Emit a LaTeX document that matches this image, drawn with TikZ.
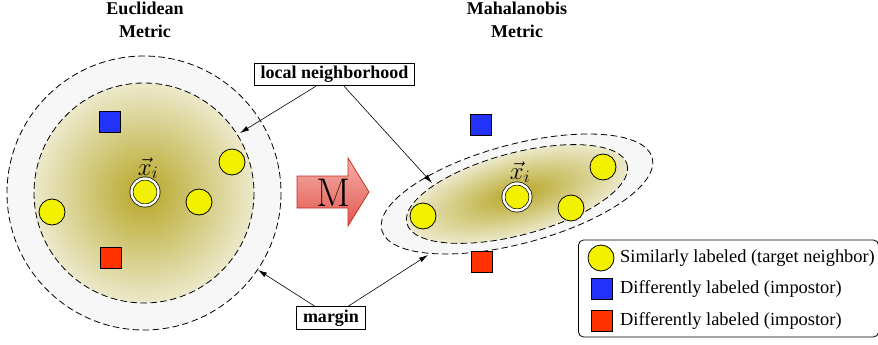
\documentclass[tikz,border=0pt]{standalone}
\usepackage{fontspec}
\newfontfamily\tnr{Liberation Serif}
\usetikzlibrary{arrows.meta,calc}
\definecolor{ylw}{RGB}{242,242,0}
\definecolor{blu}{RGB}{35,50,250}
\definecolor{rd}{RGB}{255,50,0}
\definecolor{olivec}{RGB}{183,166,38}
\definecolor{olivee}{RGB}{236,233,203}
\definecolor{ringg}{RGB}{247,247,247}
\definecolor{arrowtop}{RGB}{246,175,170}
\definecolor{arrowbot}{RGB}{224,88,78}
\definecolor{arrowedge}{RGB}{200,45,35}
\begin{document}
\begin{tikzpicture}[x=1pt,y=-1pt,
  pt/.style={circle,draw=black,fill=ylw,minimum size=26pt,inner sep=0pt,line width=0.8pt},
  ctr/.style={circle,fill=ylw,draw=black,double=white,double distance=2.4pt,line width=0.7pt,minimum size=27pt,inner sep=0pt},
  sq/.style={rectangle,draw=black,minimum size=21pt,inner sep=0pt,line width=0.8pt},
  dsh/.style={draw=black,line width=0.8pt,dash pattern=on 6.5pt off 3.5pt},
  lbl/.style={draw=black,fill=white,line width=0.8pt,font=\tnr\bfseries\fontsize{18}{20}\selectfont,inner xsep=6.5pt,inner ysep=3pt,text height=12.5pt,text depth=4pt},
  ttl/.style={font=\tnr\bfseries\fontsize{18}{23}\selectfont,align=center,inner sep=0pt},
  leg/.style={font=\tnr\fontsize{18.4}{20}\selectfont,anchor=west,inner sep=0pt},
  xilab/.style={font=\fontsize{24}{26}\selectfont,inner sep=0pt},
  conn/.style={draw=black,line width=0.6pt,-{Latex[length=9pt,width=5pt]}}
]
\useasboundingbox (0,0) rectangle (878,345);

% ---- Euclidean (left) ----
\fill[ringg] (144,193) circle[radius=137];
\draw[dsh] (144,193) circle[radius=137];
\shade[inner color=olivec,outer color=olivee] (144,193) circle[radius=110];
\draw[dsh] (144,193) circle[radius=110];

\node[ttl] (t1) at (145,20) {Euclidean\\Metric};
\node[sq,fill=blu] (b1) at (110,122) {};
\node[sq,fill=rd] (r1) at (111,258) {};
\node[pt] (p1a) at (232,162) {};
\node[pt] (p1b) at (199,202) {};
\node[pt] (p1c) at (52,212) {};
\node[ctr] (c1) at (145,192) {};
\node[xilab] (lx1) at (148,168) {$\vec{x}_i$};

% ---- Mahalanobis (right) ----
\begin{scope}[transform canvas={shift={(517,194)},rotate=15}]
  \fill[ringg] (0,0) ellipse[x radius=140,y radius=49.5];
  \draw[dsh] (0,0) ellipse[x radius=140,y radius=49.5];
  \shade[inner color=olivec,outer color=olivee] (0,0) ellipse[x radius=114,y radius=41];
  \draw[dsh] (0,0) ellipse[x radius=114,y radius=41];
\end{scope}

\node[ttl] (t2) at (517,20) {Mahalanobis\\Metric};
\node[sq,fill=blu] (b2) at (481,125) {};
\node[sq,fill=rd] (r2) at (482,262) {};
\node[pt] (p2a) at (423,216) {};
\node[pt] (p2b) at (603,167) {};
\node[pt] (p2c) at (571,208) {};
\node[ctr] (c2) at (517,197) {};
\node[xilab] (lx2) at (520,172) {$\vec{x}_i$};

% ---- M arrow ----
\shade[top color=arrowtop,bottom color=arrowbot,draw=arrowedge,line width=0.8pt]
  (297,176) -- (348,176) -- (348,158) -- (369,192) -- (348,226) -- (348,208) -- (297,208) -- cycle;
\node[font=\fontsize{40}{42}\selectfont,inner sep=0pt] (M) at (333,193) {M};

% ---- labels and connectors ----
\node[lbl] (lnb) at (334.5,74.5) {local neighborhood};
\node[lbl] (mrg) at (331,318) {margin};
\coordinate (tipA) at (240,133);
\coordinate (tipB) at (432,183);
\coordinate (tipC) at (258,270);
\coordinate (tipD) at (428,255);
\draw[conn] ($(lnb.south)+(-18.5,0)$) -- (tipA);
\draw[conn] ($(lnb.south)+(9.5,0)$) -- (tipB);
\draw[conn] ($(mrg.north)+(-16,0)$) -- (tipC);
\draw[conn] ($(mrg.north)+(17,0)$) -- (tipD);

% ---- legend ----
\node[draw=black,line width=0.8pt,rounded corners=5pt,minimum width=300pt,minimum height=97pt,inner sep=0pt] (legend) at (728.5,288.5) {};
\node[pt] (lg1) at (601,258) {};
\node[sq,fill=blu] (lg2) at (601.5,288.5) {};
\node[sq,fill=rd] (lg3) at (601.5,321) {};
\node[leg] (lt1) at (620,258) {Similarly labeled (target neighbor)};
\node[leg] (lt2) at (620,289) {Differently labeled (impostor)};
\node[leg] (lt3) at (620,321) {Differently labeled (impostor)};
\end{tikzpicture}
\end{document}
